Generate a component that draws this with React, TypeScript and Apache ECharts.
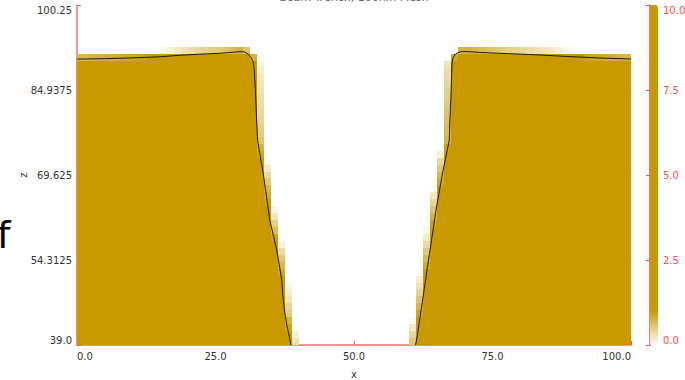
import React, { useEffect, useRef } from "react";
import * as echarts from "echarts";

// ---- data ----
const TITLE = "Beam Trench, 100nm Mesh";
const X_TICKS = [0, 25, 50, 75, 100];
const Z_TICKS = [39.0, 54.3125, 69.625, 84.9375, 100.25];
const CBAR_TICKS = [0, 2.5, 5, 7.5, 10];

const CELL = 1.25; // mesh spacing (x and z)
const Z_MIN = 39.0;
const Z_MAX = 100.25;
const X_MIN = 0;
const X_MAX = 100;
const N_COLS = 80;

// x position of the left block's right wall, per mesh row (row 0 = bottom)
const leftEdge = [38.5, 38.3, 38.0, 37.8, 37.5, 37.4, 37.2, 37.1, 37.0, 36.9, 36.7, 36.5, 36.3, 36.05, 35.8, 35.5, 35.2, 34.95, 34.7, 34.5, 34.3, 34.15, 34.0, 33.8, 33.6, 33.4, 33.2, 33.0, 32.8, 32.6, 32.5, 32.45, 32.4, 32.35, 32.3, 32.3, 32.25, 32.2, 32.15, 32.1, 32.0, 31.6, 30.9];
// x position of the right block's left wall, per mesh row
const rightEdge = [61.2, 61.4, 61.6, 61.8, 62.0, 62.2, 62.4, 62.6, 62.75, 62.9, 63.1, 63.3, 63.5, 63.7, 63.9, 64.1, 64.3, 64.5, 64.7, 64.9, 65.1, 65.35, 65.6, 65.8, 66.0, 66.2, 66.4, 66.7, 66.95, 67.2, 67.25, 67.3, 67.35, 67.4, 67.45, 67.5, 67.55, 67.6, 67.65, 67.7, 67.8, 68.3, 69.5];
// top surface (z) of the left block, per mesh column from column 0
const leftTop = [90.5, 90.52, 90.55, 90.58, 90.6, 90.63, 90.66, 90.7, 90.73, 90.77, 90.82, 90.88, 90.95, 91.05, 91.15, 91.25, 91.32, 91.38, 91.43, 91.48, 91.53, 91.6, 91.7, 91.8, 91.6, 90.6];
// top surface (z) of the right block, per mesh column from column 54
const RIGHT_TOP_START = 54;
const rightTop = [91.3, 91.8, 91.82, 91.75, 91.68, 91.62, 91.57, 91.52, 91.47, 91.42, 91.37, 91.32, 91.27, 91.22, 91.15, 91.08, 91.0, 90.92, 90.85, 90.78, 90.72, 90.68, 90.63, 90.6, 90.56, 90.52];

// contour lines
const leftContourX = [0, 5, 10, 15, 18.6, 22, 25.8, 28, 29.4, 30.2, 30.9, 31.4, 31.8, 32.0, 32.2, 32.4, 32.6, 33.0, 33.6, 34.3, 34.8, 35.5, 36.05, 36.5, 36.95, 37.2, 37.5, 38.0, 38.45, 38.6];
const leftContourZ = [90.5, 90.58, 90.72, 90.92, 91.2, 91.38, 91.55, 91.72, 91.84, 91.8, 91.4, 90.8, 90.0, 88.5, 85.0, 80.0, 75.9, 73.4, 70.0, 65.0, 61.5, 58.5, 56.1, 53.5, 50.7, 47.5, 44.8, 42.0, 39.9, 39.0];
const rightContourX = [61.1, 61.3, 62.2, 63.1, 64.0, 64.9, 66.0, 66.6, 67.2, 67.3, 67.5, 67.7, 67.9, 68.4, 69.2, 69.7, 71.0, 72.7, 76.0, 80.0, 83.6, 88.0, 94.4, 100];
const rightContourZ = [39.0, 39.9, 45.85, 51.97, 57.9, 63.86, 70.0, 73.0, 75.9, 79.0, 83.7, 89.8, 90.8, 91.5, 91.82, 91.86, 91.82, 91.7, 91.56, 91.4, 91.24, 91.0, 90.7, 90.52];

const GOLD = "#C89A00";
const RED = "#ff4d4d";
const AXIS_RED = "#ff6a6a";
const FONT = "DejaVu Sans";

function buildCells() {
  const cells: number[][] = [];
  const half = CELL / 2;
  for (let i = 0; i < leftEdge.length; i++) {
    const cellB = Z_MIN + i * CELL;
    for (let j = 0; j < N_COLS; j++) {
      const cellL = X_MIN + j * CELL;
      const cellR = cellL + CELL;
      let v = 0;
      {
        const top = j < leftTop.length ? leftTop[j] : Infinity;
        const vx = (leftEdge[i] + half - cellL) / CELL;
        const vz = (top + half - cellB) / CELL;
        v = Math.max(v, Math.min(vx, vz));
      }
      {
        const k = j - RIGHT_TOP_START;
        const top = k < 0 ? Infinity : rightTop[k];
        const vx = (cellR - rightEdge[i] + half) / CELL;
        const vz = (top + half - cellB) / CELL;
        v = Math.max(v, Math.min(vx, vz));
      }
      v = Math.min(10, v);
      if (v > 0.02) cells.push([cellL, cellB, v]);
    }
  }
  return cells;
}

export default function App() {
  const ref = useRef<HTMLDivElement>(null);
  useEffect(() => {
    if (!ref.current) return;
    const chart = echarts.init(ref.current, null, { renderer: "svg" });
    const cells = buildCells();
    const colors = ["#ffffff", ...Array.from({ length: 10 }, () => GOLD)];
    const axisLabelBase = { color: "#333", fontSize: 10, fontFamily: FONT };
    const option: any = {
      animation: false,
      textStyle: { fontFamily: FONT },
      grid: [
        { left: 77, top: 5, width: 554, height: 340, outerBoundsMode: "none", containLabel: false },
        { left: 650, top: 5, width: 8, height: 340, outerBoundsMode: "none", containLabel: false },
      ],
      xAxis: [
        {
          type: "value",
          gridIndex: 0,
          min: X_MIN,
          max: X_MAX,
          interval: 25,
          name: "x",
          nameLocation: "middle",
          nameGap: 24,
          nameMoveOverlap: false,
          nameTextStyle: { color: "#333", fontSize: 10, fontFamily: FONT },
          axisLine: { show: true, lineStyle: { color: AXIS_RED, width: 1.5 } },
          axisTick: { show: true, inside: true, length: 4, lineStyle: { color: RED }, customValues: X_TICKS },
          axisLabel: {
            ...axisLabelBase,
            margin: 6,
            customValues: X_TICKS,
            formatter: (v: number) => v.toFixed(1),
            alignMinLabel: "left",
            alignMaxLabel: "right",
          },
          splitLine: { show: false },
        },
        { type: "value", gridIndex: 1, min: 0, max: 1, show: false },
      ],
      yAxis: [
        {
          type: "value",
          gridIndex: 0,
          min: Z_MIN,
          max: Z_MAX,
          name: "z",
          nameLocation: "middle",
          nameGap: 49,
          nameMoveOverlap: false,
          nameRotate: 90,
          nameTextStyle: { color: "#333", fontSize: 10, fontFamily: FONT },
          axisLine: { show: true, lineStyle: { color: AXIS_RED, width: 1.5 } },
          axisTick: { show: true, inside: true, length: 4, lineStyle: { color: RED }, customValues: Z_TICKS },
          axisLabel: {
            ...axisLabelBase,
            margin: 5,
            customValues: Z_TICKS,
            formatter: (v: number) => (Number.isInteger(v) ? v.toFixed(1) : String(v)),
            verticalAlignMinLabel: "bottom",
            verticalAlignMaxLabel: "top",
          },
          splitLine: { show: false },
        },
        {
          type: "value",
          gridIndex: 1,
          position: "right",
          min: 0,
          max: 10,
          axisLine: { show: true, lineStyle: { color: RED, width: 1.5 } },
          axisTick: { show: true, inside: true, length: 4, lineStyle: { color: RED }, customValues: CBAR_TICKS },
          axisLabel: {
            color: RED,
            fontSize: 10,
            fontFamily: FONT,
            margin: 5,
            customValues: CBAR_TICKS,
            formatter: (v: number) => v.toFixed(1),
            verticalAlignMinLabel: "bottom",
            verticalAlignMaxLabel: "top",
          },
          splitLine: { show: false },
        },
      ],
      visualMap: {
        type: "continuous",
        min: 0,
        max: 10,
        dimension: 2,
        seriesIndex: 0,
        calculable: false,
        hoverLink: false,
        show: true,
        left: 650,
        top: 5,
        itemWidth: 8,
        itemHeight: 340,
        padding: 0,
        inRange: { color: colors },
      },
      graphic: [
        {
          type: "text",
          x: 354,
          y: -8,
          style: {
            text: TITLE,
            fill: "#666",
            font: `11px "${FONT}"`,
            textAlign: "center",
            textVerticalAlign: "top",
          },
        },
        {
          type: "text",
          x: -3,
          y: 216,
          style: {
            text: "f",
            fill: "#000",
            font: `38px "${FONT}"`,
            textVerticalAlign: "top",
          },
        },
      ],
      series: [
        {
          type: "custom",
          xAxisIndex: 0,
          yAxisIndex: 0,
          clip: true,
          data: cells,
          renderItem: (params: any, api: any) => {
            const x0 = api.value(0);
            const z0 = api.value(1);
            const p0 = api.coord([x0, z0 + CELL]);
            const p1 = api.coord([x0 + CELL, z0]);
            const left = Math.round(p0[0]);
            const top = Math.round(p0[1]);
            const right = Math.round(p1[0]);
            const bottom = Math.round(p1[1]);
            return {
              type: "rect",
              shape: { x: left, y: top, width: right - left, height: bottom - top },
              style: { fill: api.visual("color") },
            };
          },
        },
        {
          type: "line",
          xAxisIndex: 0,
          yAxisIndex: 0,
          data: leftContourX.map((x, k) => [x, leftContourZ[k]]),
          showSymbol: false,
          lineStyle: { color: "#1a1a1a", width: 1 },
          z: 5,
        },
        {
          type: "line",
          xAxisIndex: 0,
          yAxisIndex: 0,
          data: rightContourX.map((x, k) => [x, rightContourZ[k]]),
          showSymbol: false,
          lineStyle: { color: "#1a1a1a", width: 1 },
          z: 5,
        },
      ],
    };
    chart.setOption(option);
    return () => chart.dispose();
  }, []);
  return <div ref={ref} style={{ width: 685, height: 380, position: "absolute", left: 0, top: 0 }} />;
}
